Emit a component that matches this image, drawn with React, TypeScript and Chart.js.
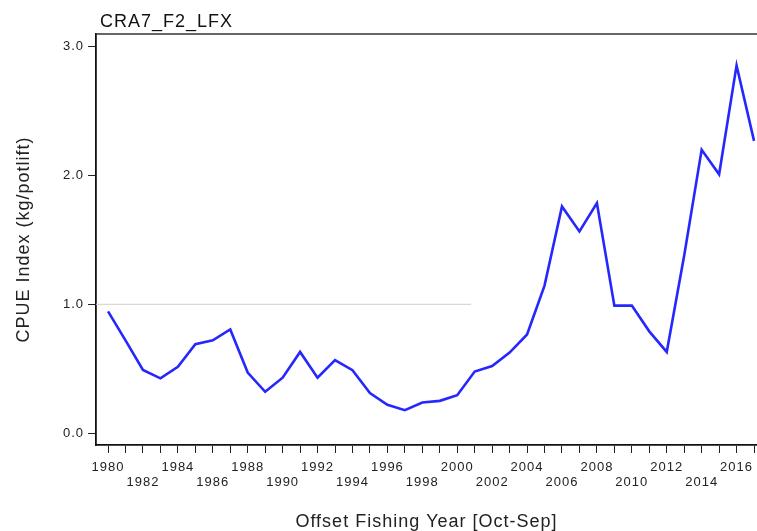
import React, { useEffect, useRef } from "react";
import { Chart, registerables } from "chart.js";

Chart.register(...registerables);

const chartTitle = "CRA7_F2_LFX";
const xAxisTitle = "Offset Fishing Year [Oct-Sep]";
const yAxisTitle = "CPUE Index (kg/potlift)";

const years = [
  1980, 1981, 1982, 1983, 1984, 1985, 1986, 1987, 1988, 1989,
  1990, 1991, 1992, 1993, 1994, 1995, 1996, 1997, 1998, 1999,
  2000, 2001, 2002, 2003, 2004, 2005, 2006, 2007, 2008, 2009,
  2010, 2011, 2012, 2013, 2014, 2015, 2016, 2017,
];
const cpue = [
  0.945, 0.72, 0.49, 0.425, 0.515, 0.69, 0.72, 0.805, 0.47, 0.32,
  0.43, 0.63, 0.43, 0.567, 0.488, 0.31, 0.22, 0.178, 0.237, 0.25,
  0.294, 0.478, 0.52, 0.625, 0.766, 1.145, 1.76, 1.566, 1.786, 0.99,
  0.99, 0.79, 0.63, 1.38, 2.2, 2.01, 2.856, 2.27,
];
// faint reference line at 1.0 (only drawn over part of the panel in the source)
const refLineYears = [1979.3, 2000.8];
const refLineValues = [1, 1];

const xMin = 1979.31;
const xMax = 2017.17;
const yMin = -0.093;
const yMax = 3.1;

const FONT = "'Liberation Sans', Arial, sans-serif";

export default function App() {
  const ref = useRef<HTMLCanvasElement | null>(null);

  useEffect(() => {
    document.body.style.margin = "0";
    const canvas = ref.current;
    if (!canvas) return;

    const spacing = {
      id: "spacing",
      beforeUpdate(chart: any) {
        chart.ctx.letterSpacing = "1px";
      },
      beforeDraw(chart: any) {
        chart.ctx.letterSpacing = "1px";
      },
    };

    const frame = {
      id: "frame",
      afterDraw(chart: any) {
        const { ctx, chartArea } = chart;
        ctx.save();
        ctx.letterSpacing = "1px";
        ctx.strokeStyle = "#333";
        ctx.lineWidth = 1.5;
        ctx.beginPath();
        ctx.moveTo(chartArea.left, chartArea.top);
        ctx.lineTo(chartArea.right, chartArea.top);
        ctx.stroke();
        ctx.fillStyle = "#111";
        ctx.font = `18px ${FONT}`;
        ctx.textAlign = "left";
        ctx.textBaseline = "alphabetic";
        ctx.fillText(chartTitle, chartArea.left + 4, 27);
        ctx.restore();
      },
    };

    const chart = new Chart(canvas, {
      type: "line",
      data: {
        datasets: [
          {
            data: refLineYears.map((x, i) => ({ x, y: refLineValues[i] })),
            borderColor: "#cfcfcf",
            borderWidth: 1,
            pointRadius: 0,
            tension: 0,
          },
          {
            data: years.map((x, i) => ({ x, y: cpue[i] })),
            borderColor: "#2626ff",
            borderWidth: 2.6,
            pointRadius: 0,
            tension: 0,
          },
        ],
      },
      options: {
        animation: false,
        responsive: false,
        layout: { padding: { top: 34, left: 0, right: 0, bottom: 0 } },
        plugins: {
          legend: { display: false },
          title: { display: false },
          tooltip: { enabled: false },
        },
        scales: {
          x: {
            type: "linear",
            min: xMin,
            max: xMax,
            afterFit(scale: any) {
              scale.height = 86;
              scale.paddingLeft = 0;
              scale.paddingRight = 0;
            },
            grid: {
              drawOnChartArea: false,
              tickLength: 8,
              color: "#222",
              lineWidth: 1,
            },
            border: { display: true, color: "#111", width: 1.8 },
            ticks: {
              stepSize: 1,
              includeBounds: false,
              autoSkip: false,
              maxRotation: 0,
              minRotation: 0,
              padding: 7,
              color: "#222",
              font: { family: FONT, size: 13, lineHeight: 15 / 13 },
              callback: (v: any) => {
                const y = Math.round(Number(v));
                if (y % 4 === 0) return [String(y), ""];
                if (y % 4 === 2) return ["", String(y)];
                return "";
              },
            },
            title: {
              display: true,
              text: xAxisTitle,
              color: "#222",
              font: { family: FONT, size: 18, lineHeight: 1 },
              padding: { top: 0, bottom: 0 },
            },
          },
          y: {
            min: yMin,
            max: yMax,
            afterFit(scale: any) {
              scale.width = 96;
              scale.paddingTop = 0;
              scale.paddingBottom = 0;
            },
            grid: {
              drawOnChartArea: false,
              tickLength: 8,
              color: "#222",
              lineWidth: 1,
            },
            border: { display: true, color: "#111", width: 1.8 },
            ticks: {
              stepSize: 1,
              includeBounds: false,
              padding: 4,
              color: "#222",
              font: { family: FONT, size: 13 },
              callback: (v: any) => Number(v).toFixed(1),
            },
            title: {
              display: true,
              text: yAxisTitle,
              color: "#222",
              font: { family: FONT, size: 18, lineHeight: 1 },
              padding: { top: 15, bottom: 0 },
            },
          },
        },
      },
      plugins: [spacing, frame],
    } as any);

    return () => chart.destroy();
  }, []);

  return (
    <canvas
      ref={ref}
      width={757}
      height={531}
      style={{ display: "block", width: 757, height: 531 }}
    />
  );
}
